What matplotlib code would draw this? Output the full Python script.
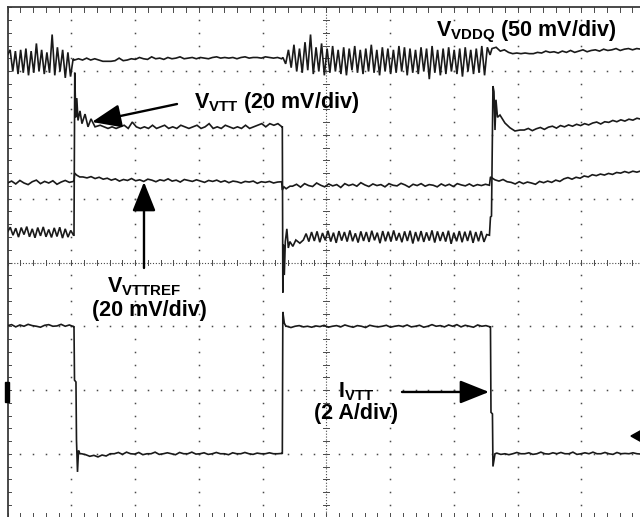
import numpy as np
import matplotlib.pyplot as plt
from matplotlib.patches import FancyArrowPatch, ArrowStyle, Polygon, Rectangle

plt.rcParams['font.family'] = 'Liberation Sans'
plt.rcParams['mathtext.fontset'] = 'custom'
plt.rcParams['mathtext.rm'] = 'Liberation Sans'
plt.rcParams['mathtext.bf'] = 'Liberation Sans:bold'

# screen is 10 x 8 divisions; load steps happen at these times (div)
t_step = [1.043, 4.311, 7.576]

# channel settings: reference position (div) and scale per div
vddq_pos, vddq_scale = 7.176, 50.0     # mV/div
vtt_pos, vtt_scale = 4.478, 20.0       # mV/div
ref_pos, ref_scale = 5.247, 20.0       # mV/div
i_pos, i_scale = 2.0, 2.0              # A/div

# ---- V_VDDQ, mV ----
vddq_ring1 = [4, 8, -9, 7, -11, 8, -10, 9, -12, 7, -10, 13, -9, 8, -11, 6,
              -10, 20, -12, 10, -9, 8, -14, 6, -13, 1]
vddq_quiet1 = [0, 1, 0, 1.5, 0, 1, 0, -1, -1, -1, -0.5, 1.5, -0.5, 0, 1, 0.5,
               2, 1, 0.5, 2.5, 1, 1.5, 0.5, 2, 1, 1.5, 2.5, 1, 1.5, 2, 1, 2,
               1.5, 1, 2, 2.5, 1.5, 2, 1.5, 2, 1, 2, 2.5, 1.5, 2, 2, 1.5, 2.5,
               2, 1.5, 2, 1]
vddq_ring2 = [2, -3, 8, -6, 12, -9, 9, -10, 14, -8, 20, -11, 10, -9, 13, -12,
              9, -10, 11, -9, 8, -11, 10, -12, 9, -8, 11, -10, 8, -11, 9, -9,
              12, -10, 8, -12, 10, -9, 9, -11, 8, -10, 11, -9, 10, -12, 9, -10,
              8, -11, 10, -9, 9, -15, 11, -10, 8, -12, 9, -11, 10, -9, 8, -11,
              9, -13, 10, -9, 8, -11, 9, -10, 11, -12, 10, 4]
vddq_quiet2 = [9, 10, 7, 8, 6, 5, 5.5, 5, 5.5, 5, 5, 6, 5.5, 7, 6, 6.5, 5.5, 7,
               6, 7.5, 6, 7, 8, 6.5, 7.5, 8, 7, 8.5, 7.5, 8, 9, 7.5, 8.5, 9, 8,
               9, 8.5, 9]

# ---- V_VTT, mV ----
vtt_ring1 = [0, 1.5, -1, 1.2, -1.6, 1.4, -0.8, 1.7, -1.5, 1, -1.8, 1.4, -1.2,
             1.6, -1.5, 0.8, -1.7, 1.3, -1.4, 1.5, -1.9, 1, -1.6, 0.5, -1]
vtt_rise1_dt = [0, 0.012, 0.028, 0.044, 0.063, 0.094, 0.125, 0.173, 0.22,
                0.267, 0.33, 0.41]
vtt_rise1 = [-1, 50, 36, 42, 35, 38, 34, 37, 33, 35.5, 33, 33.5]
vtt_high1 = [33, 32.5, 33, 32.5, 33, 33.5, 32.5, 34.5, 33, 32.5, 33, 32.5,
             33.5, 32.5, 33, 33.5, 32.5, 33, 32.5, 33.5, 33, 32.5, 33, 33.5,
             32.5, 33, 34, 32.5, 33, 32.5, 33.5, 33, 32.5, 33, 32.5, 33.5,
             32.5, 33, 33.5, 34, 33, 34, 33.5, 34, 33]
vtt_fall1_dt = [0, 0.008, 0.016, 0.031, 0.047, 0.071, 0.094, 0.118, 0.165,
                0.212, 0.275]
vtt_fall1 = [33, -19, -4, -13.5, -3, 1, -5, -3, -4.5, -2.5, -3.5]
vtt_ring2 = [-2.5, -0.5, -3, 0, -2.8, 0.2, -3.2, -0.3, -2.6, 0.4, -3, -0.2,
             -3.4, 0.3, -2.7, 0, -3, 0.5, -2.9, -0.4, -3.3, 0.2, -2.8, 0,
             -3.1, 0.4, -2.6, -0.2, -3.5, 0.3, -2.9, 0.1, -3, 0.5, -2.7, -0.3,
             -3.2, 0.2, -2.8, 0.4, -3.6, 0, -2.9, 0.3, -3.1, -0.1, -2.7, 0.5,
             -3.3, 0.2, -2.8, 0, -3, 0.4, -3.7, -0.2, -2.9, 0.3, -3.2, 0.1,
             -2.8, 0.4, -3.4, 0, -2.9, 0.3, -3.1, -0.8, -1]
vtt_rise2_dt = [0, 0.016, 0.039, 0.055, 0.071, 0.086, 0.11, 0.149, 0.227,
                0.306, 0.384, 0.463]
vtt_rise2 = [4.7, 5, 45.8, 44, 32, 41.5, 36, 36.7, 34.2, 32.7, 31.7, 32]
vtt_high2 = [32, 32.5, 31.8, 32.4, 32.8, 32.2, 32.9, 33.2, 32.6, 33.4, 33,
             33.6, 33.2, 33.8, 33.4, 34, 33.6, 34.2, 34.5, 33.9, 34.6, 34.4,
             35, 34.6, 35.2, 34.8, 35.4, 35.1, 35.7, 35.4, 35.8]

# ---- V_VTTREF, mV ----
ref_seg1 = [0, 0.6, -0.3, 0.8, 0, -0.5, 0.4, 0.9, -0.2, 0.5, 0, 0.7, -0.4,
            0.3, 0.8, 0.2, 0.5]
ref_edge1_dt = [0, 0.01, 0.04, 0.09]
ref_edge1 = [0.5, 3.1, 2.5, 1.9]
ref_seg2 = [1.9, 1.6, 2, 1.4, 1.8, 1.2, 1.5, 0.9, 1.3, 0.6, 1.1, 0.8, 1.4,
            0.7, 1, 0.5, 1.2, 0.9, 0.4, 1, 0.7, 1.3, 0.6, 0.9, 0.3, 1.1, 0.8,
            0.5, 1, 0.6, 0.2, 0.8, 0.5, 0.9, 0.3, 0.7, 0.1, 0.6, 0.4, 0, 0.5,
            0.3, 0.6, -0.1, 0.4, 0.2, 0.5, 0, 0.3, 0.4]
ref_edge2_dt = [0, 0.025, 0.06, 0.12]
ref_edge2 = [-2.2, -1.2, -1.8, -1.0]
ref_seg3 = [-1, -0.4, -1.3, -0.2, -0.8, -1.1, 0, -0.7, -1.2, -0.3, -0.9,
            -0.5, -1.4, -0.2, -0.8, -0.4, -1, 0.1, -0.6, -1.1, -0.3, -0.8,
            -0.5, -1.2, -0.2, -0.7, -0.9, -0.1, -0.6, -1.3, -0.4, -0.8, -0.2,
            -1, -0.5, -0.7, -1.2, -0.3, -0.9, -0.4, -1.1, -0.2, -0.6, -0.9,
            -0.3, -1, -0.5, -0.8, -0.4, -0.7]
ref_edge3_dt = [0, 0.03]
ref_edge3 = [1.9, 1.5]
ref_seg4 = [1, 0.6, 1.1, 0.4, 0.2, -0.3, 0.4, -0.2, 0.3, 0, -0.4, 0.5, 0.1,
            0.6, 0.2, 0.9, 0.5, 1.3, 1.7, 1.2, 1.8, 1.5, 2.2, 1.9, 2.6, 2.3,
            2.8, 2.5, 3, 2.7, 3.3, 3.1, 3.6, 3.2, 3.7, 3.4, 3.8, 3.5]

# ---- I_VTT, A ----
i_seg1 = [2.02, 2.05, 1.98, 2.04, 2.0, 2.06, 2.02, 2.0, 1.97, 2.03, 2.05,
          2.0, 2.01, 2.06, 2.0, 2.04, 1.99]
i_edge1_dt = [0, 0.008, 0.031, 0.039, 0.055, 0.071, 0.094]
i_edge1 = [2.0, 0.31, 0.25, -1.57, -2.57, -1.9, -2.0]
i_seg2 = [-2.0, -2.03, -2.08, -2.05, -2.1, -2.04, -2.07, -2.0, -2.0, -1.96,
          -2.02, -1.95, -2.0, -2.01, -1.96, -2.03, -2.0, -2.0, -1.95, -2.02,
          -2.0, -1.97, -2.0, -2.03, -1.96, -2.0, -2.0, -1.95, -2.01, -2.0,
          -1.97, -2.02, -2.0, -1.96, -2.0, -2.0, -2.03, -1.97, -2.0, -2.0,
          -1.96, -2.0, -2.02, -1.98, -2.0, -2.0, -1.97, -2.0, -2.0, -1.99]
i_edge2_dt = [0, 0.008, 0.031, 0.055]
i_edge2 = [-2.0, 2.45, 2.1, 2.0]
i_seg3 = [2.0, 1.96, 2.0, 2.02, 1.98, 2.0, 1.97, 2.01, 1.99, 2.03, 1.97, 2.0,
          2.02, 1.98, 2.04, 2.0, 1.97, 2.02, 2.0, 1.96, 2.03, 2.0, 1.98, 2.0,
          2.03, 1.97, 2.0, 2.02, 1.99, 2.04, 1.98, 2.0, 2.03, 1.97, 2.0,
          2.05, 2.0, 2.02, 1.98, 2.04, 2.0, 2.05, 1.98, 2.03, 2.0, 1.97,
          2.04, 2.0, 2.02, 1.98]
i_edge3_dt = [0, 0.008, 0.031, 0.039, 0.071]
i_edge3 = [2.0, -0.7, -0.75, -2.4, -2.0]
i_seg4 = [-1.98, -2.02, -2.0, -2.03, -2.0, -1.96, -2.0, -2.0, -1.97, -2.02,
          -2.0, -1.95, -2.0, -2.01, -1.97, -2.0, -1.96, -2.0, -2.0, -1.95,
          -2.02, -2.0, -1.97, -2.0, -1.95, -2.0, -2.0, -1.96, -2.0, -2.02,
          -1.96, -2.0, -1.99, -2.0, -1.97, -2.0, -2.01, -2.0]


def run(t0, t1, vals):
    # evenly sampled stretch of record between t0 and t1
    return np.linspace(t0, t1, len(vals)), np.asarray(vals, float)


def edge(t0, dt, vals):
    return t0 + np.asarray(dt, float), np.asarray(vals, float)


def trace(parts, pos, scale):
    t = np.concatenate([p[0] for p in parts])
    v = np.concatenate([p[1] for p in parts])
    return t, pos + v / scale


e1, e2, e3 = t_step
traces = [
    trace([run(0, 1.03, vddq_ring1), run(1.05, 4.30, vddq_quiet1),
           run(4.32, 7.57, vddq_ring2), run(7.60, 10.0, vddq_quiet2)],
          vddq_pos, vddq_scale),
    trace([run(0, 1.035, vtt_ring1), edge(e1, vtt_rise1_dt, vtt_rise1),
           run(e1 + 0.47, 4.305, vtt_high1), edge(e2, vtt_fall1_dt, vtt_fall1),
           run(e2 + 0.33, 7.56, vtt_ring2), edge(e3, vtt_rise2_dt, vtt_rise2),
           run(e3 + 0.53, 10.0, vtt_high2)],
          vtt_pos, vtt_scale),
    trace([run(0, 1.035, ref_seg1), edge(e1, ref_edge1_dt, ref_edge1),
           run(e1 + 0.14, 4.30, ref_seg2), edge(e2, ref_edge2_dt, ref_edge2),
           run(e2 + 0.16, 7.56, ref_seg3), edge(e3, ref_edge3_dt, ref_edge3),
           run(e3 + 0.07, 10.0, ref_seg4)],
          ref_pos, ref_scale),
    trace([run(0, 1.035, i_seg1), edge(e1, i_edge1_dt, i_edge1),
           run(e1 + 0.12, 4.30, i_seg2), edge(e2, i_edge2_dt, i_edge2),
           run(e2 + 0.07, 7.57, i_seg3), edge(e3, i_edge3_dt, i_edge3),
           run(e3 + 0.10, 10.0, i_seg4)],
          i_pos, i_scale),
]

fig = plt.figure(figsize=(6.4, 5.17), dpi=100)
ax = fig.add_axes([7.5 / 640, -0.5 / 517, 637.5 / 640, 510 / 517])
ax.set_xlim(0, 10)
ax.set_ylim(0, 8)
ax.axis('off')

#
# graticule
#
grid_c = '#4a4a4a'
minor = np.arange(0, 10.01, 0.2)
minor_y = np.arange(0, 8.01, 0.2)
for gx in range(1, 10):
    if gx == 5:
        continue
    ax.plot(np.full_like(minor_y, gx), minor_y, ls='none', marker='s',
            ms=1.1, mew=0, color=grid_c, zorder=1)
for gy in range(1, 8):
    if gy == 4:
        continue
    ax.plot(minor, np.full_like(minor, gy), ls='none', marker='s',
            ms=1.1, mew=0, color=grid_c, zorder=1)

# centre cross with small ticks
ax.plot([0, 10], [4, 4], ls=(0, (1, 1.6)), lw=0.8, color=grid_c, zorder=1)
ax.plot([5, 5], [0, 8], ls=(0, (1, 1.6)), lw=0.8, color=grid_c, zorder=1)
for m in minor:
    ax.plot([m, m], [3.955, 4.045], lw=0.7, color=grid_c, zorder=1)
for m in minor_y:
    ax.plot([4.955, 5.045], [m, m], lw=0.7, color=grid_c, zorder=1)

# frame edges with minor ticks
ax.plot([0, 10], [8, 8], lw=1.3, color='#3a3a3a', zorder=2, clip_on=False)
ax.plot([0, 0], [0, 8], lw=1.3, color='#3a3a3a', zorder=2, clip_on=False)
for m in minor:
    ax.plot([m, m], [8, 7.93], lw=0.7, color=grid_c, zorder=1)
    ax.plot([m, m], [0, 0.07], lw=0.7, color=grid_c, zorder=1)
for m in minor_y:
    ax.plot([0, 0.06], [m, m], lw=0.7, color=grid_c, zorder=1)

#
# waveforms
#
for t, y in traces:
    ax.plot(t, y, color='#1a1a1a', lw=1.2, zorder=3, solid_joinstyle='miter')

# channel ground marker and trigger level marker
ax.add_patch(Rectangle((-0.04, 1.812), 0.056, 0.313, color='black',
                       clip_on=False, zorder=4))
ax.add_patch(Polygon([[9.78, 1.278], [10.0, 1.40], [10.0, 1.155]],
                     closed=True, color='black', zorder=4, clip_on=False))

#
# labels and arrows
#
fs = 15.5
ax.text(6.72, 7.553, r'$\mathbf{V}_{\mathbf{VDDQ}}$ (50 mV/div)', fontsize=fs,
        fontweight='bold', ha='left', va='baseline', zorder=5)
ax.text(2.93, 6.424, r'$\mathbf{V}_{\mathbf{VTT}}$ (20 mV/div)', fontsize=fs,
        fontweight='bold', ha='left', va='baseline', zorder=5)
ax.text(2.141, 3.537, r'$\mathbf{V}_{\mathbf{VTTREF}}$', fontsize=fs,
        fontweight='bold', ha='center', va='baseline', zorder=5)
ax.text(2.220, 3.161, '(20 mV/div)', fontsize=fs, fontweight='bold',
        ha='center', va='baseline', zorder=5)
ax.text(5.470, 1.890, r'$\mathbf{I}_{\mathbf{VTT}}$', fontsize=fs,
        fontweight='bold', ha='center', va='baseline', zorder=5)
ax.text(5.475, 1.545, '(2 A/div)', fontsize=fs, fontweight='bold',
        ha='center', va='baseline', zorder=5)

head = ArrowStyle('-|>', head_length=18, head_width=7.2)
for tail, tip in [((2.659, 6.486), (1.325, 6.204)),
                  ((2.141, 3.914), (2.141, 5.263)),
                  ((6.188, 1.969), (7.553, 1.969))]:
    ax.add_patch(FancyArrowPatch(tail, tip, arrowstyle=head, mutation_scale=1,
                                 lw=1.7, color='black', shrinkA=0, shrinkB=0,
                                 zorder=5))

fig.savefig('out.png', dpi=100)
